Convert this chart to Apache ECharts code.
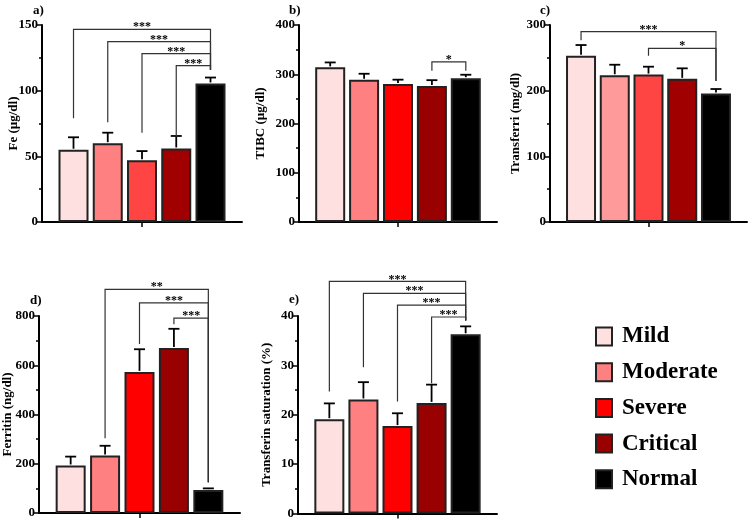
<!DOCTYPE html>
<html>
<head>
<meta charset="utf-8">
<script src="https://cdn.jsdelivr.net/npm/echarts@6/dist/echarts.min.js"></script>
<style>
  html, body { margin: 0; padding: 0; background: #fff; }
  #chart { width: 749px; height: 520px; }
</style>
</head>
<body>
<div id="chart"></div>
<script>
var groups = ['Mild', 'Moderate', 'Severe', 'Critical', 'Normal'];

// means and upper error (SEM) per panel
var feMean = [55, 60, 47, 56, 105.5];
var feErr = [9.5, 8, 7, 9.5, 4.5];
var tibcMean = [314, 289, 280, 276, 292];
var tibcErr = [10, 12, 9, 12, 7];
var trfMean = [253, 223.5, 224.5, 218, 195.5];
var trfErr = [16.5, 16, 12, 16, 7];
var ferMean = [193, 234, 573, 670, 93];
var ferErr = [36, 39, 92, 78, 7];
var satMean = [19.1, 23.1, 17.7, 22.4, 36.3];
var satErr = [3.2, 3.5, 2.6, 3.7, 1.6];

// significance brackets: [from, to, level, left leg end, right leg end]
var feBrackets = [[0, 4, 146.7, 79, 115.7], [1, 4, 137.3, 76, 115.7], [2, 4, 128.2, 68, 115.7], [3, 4, 119, 65, 115.7]];
var feStars = ['***', '***', '***', '***'];
var tibcBrackets = [[3, 4, 325, 307, 307]];
var tibcStars = ['*'];
var trfBrackets = [[0, 4, 290, 276.7, 214.7], [2, 4, 264.5, 253, 214.7]];
var trfStars = ['***', '*'];
var ferBrackets = [[1, 4, 908, 304, 125], [2, 4, 853, 686, 125], [3, 4, 791, 767, 125]];
var ferStars = ['**', '***', '***'];
var satBrackets = [[0, 4, 47, 24.7, 39.1], [1, 4, 44.6, 29.6, 39.1], [2, 4, 42.2, 22.7, 39.1], [3, 4, 39.8, 26.4, 39.1]];
var satStars = ['***', '***', '***', '***'];

var FONT = "'Liberation Serif', 'Times New Roman', serif";

var panels = [
  { tag: 'a)', name: 'Fe (µg/dl)', mean: feMean, err: feErr, br: feBrackets, stars: feStars, max: 150, step: 50,
    colors: ['#ffe0e0', '#ff8080', '#ff4444', '#a00000', '#000000'], nameGap: 22,
    grid: { left: 42, top: 25, width: 200, height: 197 }, tagPos: [33, 4] },
  { tag: 'b)', name: 'TIBC (µg/dl)', mean: tibcMean, err: tibcErr, br: tibcBrackets, stars: tibcStars, max: 400, step: 100,
    colors: ['#ffe0e0', '#ff8080', '#ff0000', '#990000', '#000000'], nameGap: 32,
    grid: { left: 299, top: 25, width: 198, height: 197 }, tagPos: [289, 4] },
  { tag: 'c)', name: 'Transferri (mg/dl)', mean: trfMean, err: trfErr, br: trfBrackets, stars: trfStars, max: 300, step: 100,
    colors: ['#ffe0e0', '#ff9a9a', '#ff4444', '#a00000', '#000000'], nameGap: 28,
    grid: { left: 550, top: 25, width: 197, height: 197 }, tagPos: [540, 4] },
  { tag: 'd)', name: 'Ferritin (ng/dl)', mean: ferMean, err: ferErr, br: ferBrackets, stars: ferStars, max: 800, step: 200,
    colors: ['#ffe0e0', '#ff8080', '#ff0000', '#990000', '#000000'], nameGap: 25,
    grid: { left: 39, top: 316, width: 201, height: 197 }, tagPos: [30, 294] },
  { tag: 'e)', name: 'Transferin saturation (%)', mean: satMean, err: satErr, br: satBrackets, stars: satStars, max: 40, step: 10,
    colors: ['#ffe0e0', '#ff8080', '#ff0000', '#990000', '#000000'], nameGap: 25,
    grid: { left: 298, top: 316, width: 199, height: 199 }, tagPos: [289, 293] }
];

var grids = [], xAxes = [], yAxes = [], series = [], titles = [];

panels.forEach(function (p, k) {
  grids.push(p.grid);
  titles.push({
    text: p.tag, left: p.tagPos[0], top: p.tagPos[1], padding: 0,
    textStyle: { fontFamily: FONT, fontWeight: 'bold', fontSize: 13, color: '#000' }
  });
  xAxes.push({
    gridIndex: k, type: 'value', min: -0.92, max: 4.92,
    axisLine: { onZero: false, lineStyle: { color: '#000', width: 2 } },
    axisTick: { show: true, customValues: [2], length: 5, lineStyle: { color: '#000', width: 1.5 } },
    axisLabel: { show: false },
    splitLine: { show: false }
  });
  yAxes.push({
    gridIndex: k, type: 'value', min: 0, max: p.max, interval: p.step,
    name: p.name, nameLocation: 'middle', nameGap: p.nameGap, nameMoveOverlap: false,
    nameTextStyle: { fontFamily: FONT, fontWeight: 'bold', fontSize: 13, color: '#000' },
    axisLine: { show: true, onZero: false, lineStyle: { color: '#000', width: 2 } },
    axisTick: { show: true, length: 5, lineStyle: { color: '#000', width: 1.5 } },
    minorTick: { show: true, splitNumber: 2, length: 3, lineStyle: { color: '#000', width: 1.5 } },
    axisLabel: { fontFamily: FONT, fontWeight: 'bold', fontSize: 13, color: '#000', margin: 4 },
    splitLine: { show: false }
  });

  groups.forEach(function (g, i) {
    series.push({
      name: g, type: 'bar', xAxisIndex: k, yAxisIndex: k,
      barWidth: 30, barGap: '-100%',
      data: [[i, p.mean[i]]],
      itemStyle: { color: p.colors[i], borderColor: '#222', borderWidth: 2 },
      z: 2
    });
  });

  // upper error whiskers
  series.push({
    type: 'custom', xAxisIndex: k, yAxisIndex: k, clip: false, z: 3,
    data: p.mean.map(function (m, i) { return [i, m, m + p.err[i]]; }),
    renderItem: function (params, api) {
      var a = api.coord([api.value(0), api.value(1)]);
      var b = api.coord([api.value(0), api.value(2)]);
      var st = { stroke: '#000', lineWidth: 1.8 };
      return {
        type: 'group', children: [
          { type: 'line', shape: { x1: a[0], y1: a[1] - 1, x2: b[0], y2: b[1] }, style: st },
          { type: 'line', shape: { x1: b[0] - 5.5, y1: b[1], x2: b[0] + 5.5, y2: b[1] }, style: st }
        ]
      };
    }
  });

  // significance brackets
  series.push({
    type: 'custom', xAxisIndex: k, yAxisIndex: k, clip: false, z: 4,
    data: p.br,
    renderItem: function (params, api) {
      var p1 = api.coord([api.value(0), api.value(3)]);
      var p2 = api.coord([api.value(0), api.value(2)]);
      var p3 = api.coord([api.value(1), api.value(2)]);
      var p4 = api.coord([api.value(1), api.value(4)]);
      return {
        type: 'group', children: [
          { type: 'polyline', shape: { points: [p1, p2, p3, p4] },
            style: { stroke: '#333', lineWidth: 1.2, fill: null } },
          { type: 'text', x: (p2[0] + p3[0]) / 2, y: p2[1] + 4,
            style: { text: p.stars[params.dataIndex], fontFamily: FONT, fontWeight: 'bold', fontSize: 12,
                     fill: '#000', align: 'center', verticalAlign: 'bottom' } }
        ]
      };
    }
  });
});

var legendColors = ['#ffe0e0', '#ff8080', '#ff0000', '#990000', '#000000'];

var option = {
  animation: false,
  title: titles,
  grid: grids,
  xAxis: xAxes,
  yAxis: yAxes,
  legend: {
    orient: 'vertical', left: 595, top: 325, padding: 0,
    icon: 'rect', itemWidth: 16, itemHeight: 18, itemGap: 12.7,
    data: groups.map(function (g, i) {
      return { name: g, itemStyle: { color: legendColors[i], borderColor: '#222', borderWidth: 2 } };
    }),
    textStyle: { fontFamily: FONT, fontWeight: 'bold', fontSize: 23, color: '#000', padding: [0, 0, 0, 5] }
  },
  series: series
};

var myChart = echarts.init(document.getElementById('chart'));
myChart.setOption(option);
</script>
</body>
</html>
